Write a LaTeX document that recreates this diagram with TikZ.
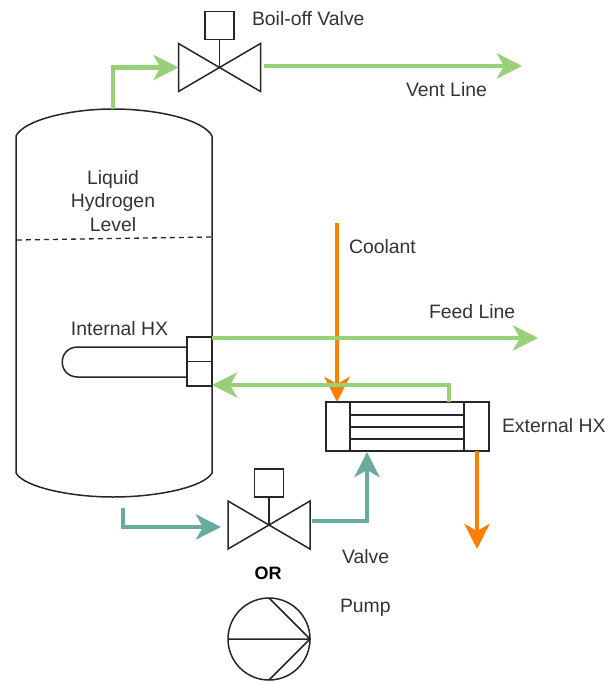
\documentclass[tikz,border=0pt]{standalone}
\usepackage{fontspec}
\setmainfont{Liberation Sans}
\usetikzlibrary{arrows.meta}
\definecolor{gflow}{HTML}{97D077}
\definecolor{tflow}{HTML}{67AB9F}
\definecolor{oflow}{HTML}{FF8000}
\definecolor{lab}{HTML}{333333}
\tikzset{
  x=1pt,y=-1pt,
  every node/.style={inner sep=0pt,outer sep=0pt},
  outline/.style={draw=black!85,line width=1.5pt,line join=miter},
  lbl/.style={text=lab,font=\fontsize{19.4}{23.6}\selectfont,align=center},
  flow/.style={line width=4.8pt,-{Stealth[length=25pt,width=25pt,inset=7pt]},line join=miter},
  gline/.style={flow,draw=gflow,color=gflow},
  tline/.style={flow,draw=tflow,color=tflow},
  oline/.style={flow,draw=oflow,color=oflow},
}
\newcommand{\valvesym}[3]{% name, centre x, centre y
  \coordinate (#1c) at (#2,#3);
  \coordinate (#1in) at (#2-41,#3);
  \coordinate (#1out) at (#2+41,#3);
  \draw[outline] (#2-41,#3-24) -- (#2+41,#3+24) -- (#2+41,#3-24) -- (#2-41,#3+24) -- cycle;
  \node[outline,minimum width=29pt,minimum height=28pt] (#1b) at (#2,#3-42) {};
  \draw[outline] (#1b.south) -- (#1c);
}
\begin{document}
\begin{tikzpicture}
\useasboundingbox (0,0) rectangle (606,682);
% tank
\draw[outline] (16,136) .. controls (24,120) and (70,109) .. (113,109)
  .. controls (158,109) and (204,120) .. (212,136) -- (212,473)
  .. controls (204,487) and (158,497) .. (113,497)
  .. controls (70,497) and (24,487) .. (16,473) -- cycle;
\coordinate (tanktop) at (113,109);
\draw[outline,line width=1.3pt,dash pattern=on 5pt off 4pt] (17,240) -- (211,237);
\node[lbl] (level) at (113,201) {Liquid\\Hydrogen\\Level};
% internal HX
\draw[outline] (187,347) -- (78,347) .. controls (57,347) and (57,377) .. (78,377) -- (187,377);
\node[outline,minimum width=25pt,minimum height=24.5pt] (ihxa) at (199.5,349) {};
\node[outline,minimum width=25pt,minimum height=24.5pt] (ihxb) at (199.5,373.5) {};
\node[lbl] (ihxl) at (119.5,329) {Internal HX};
% valves
\valvesym{vtop}{219.5}{67.5}
\valvesym{vbot}{269}{525}
\node[lbl,anchor=west] (boill) at (252,19) {Boil-off Valve};
\node[lbl,anchor=west] (ventl) at (406,90) {Vent Line};
\node[lbl,anchor=west] (cooll) at (349,247) {Coolant};
\node[lbl,anchor=west] (feedl) at (429,312) {Feed Line};
\node[lbl,anchor=west] (exl) at (502,426) {External HX};
\node[lbl,anchor=west] (vall) at (342,557) {Valve};
\node[lbl,anchor=west] (puml) at (340,608) {Pump};
\node[lbl,font=\fontsize{18}{21.5}\selectfont\bfseries,text=black] (orl) at (268,573) {OR};
% pump
\node[outline,circle,minimum size=82pt] (pump) at (269,639) {};
\draw[outline] (pump.west) -- (pump.east) (pump.north) -- (pump.east) -- (pump.south);
% external HX
\node[outline,minimum width=163pt,minimum height=49pt] (ehx) at (407.5,426.5) {};
\draw[outline] (350,402) -- (350,451) (464,402) -- (464,451)
  (350,415) -- (464,415) (350,427) -- (464,427) (350,439) -- (464,439);
\coordinate (coolin) at (337,223);
\coordinate (coolend) at (337,402);
\coordinate (coolout) at (477,451);
\coordinate (coolexit) at (477,549);
\coordinate (ventstart) at (264,66);
\coordinate (ventend) at (522,66);
\coordinate (feedstart) at (212,338);
\coordinate (feedend) at (538,338);
\coordinate (retstart) at (449,402);
\coordinate (retend) at (212,385);
\coordinate (tout) at (312,521);
\coordinate (tin) at (367,452);
\coordinate (bstart) at (123,508);
\coordinate (bend) at (221,527);
% flows
\draw[oline] (coolin) -- (coolend);
\draw[oline] (coolout) -- (coolexit);
\draw[gline] (tanktop) |- (vtopin);
\draw[gline] (ventstart) -- (ventend);
\draw[gline] (feedstart) -- (feedend);
\draw[gline] (retstart) |- (retend);
\draw[tline] (tout) -| (tin);
\draw[tline] (bstart) |- (bend);
\end{tikzpicture}
\end{document}
